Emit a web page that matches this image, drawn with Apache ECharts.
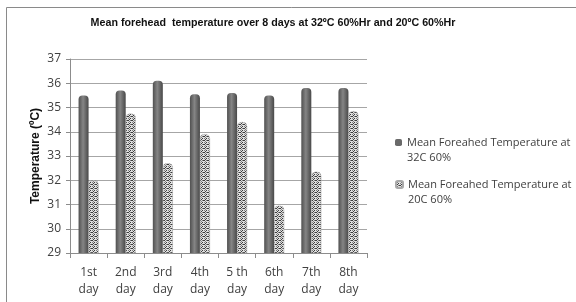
<!DOCTYPE html>
<html>
<head>
<meta charset="utf-8">
<script src="https://cdn.jsdelivr.net/npm/echarts@6/dist/echarts.min.js"></script>
<style>
  html, body { margin: 0; padding: 0; background: #fff; }
  #chart { width: 576px; height: 302px; }
</style>
</head>
<body>
<div id="chart"></div>
<script>
// data
var days = ['1st\nday', '2nd\nday', '3rd\nday', '4th\nday', '5 th\nday', '6th\nday', '7th\nday', '8th\nday'];
var temp32 = [35.5, 35.7, 36.1, 35.55, 35.6, 35.5, 35.8, 35.8];
var temp20 = [32.0, 34.75, 32.7, 33.9, 34.4, 30.95, 32.35, 34.85];
var name32 = 'Mean Foreahed Temperature at 32C 60%';
var name20 = 'Mean Foreahed Temperature at 20C 60%';

// speckled fill for the 20C series
function speckle() {
    var c = document.createElement('canvas');
    c.width = 4; c.height = 4;
    var ctx = c.getContext('2d');
    ctx.fillStyle = '#e0e0e0';
    ctx.fillRect(0, 0, 4, 4);
    ctx.fillStyle = '#3c3c3c';
    ctx.fillRect(0, 0, 1, 1);
    ctx.fillRect(2, 2, 1, 1);
    ctx.fillRect(3, 0, 1, 1);
    ctx.fillRect(1, 3, 1, 1);
    ctx.fillStyle = '#808080';
    ctx.fillRect(2, 0, 1, 1);
    ctx.fillRect(0, 2, 1, 1);
    ctx.fillRect(1, 1, 1, 1);
    return c;
}

var darkFill = new echarts.graphic.LinearGradient(0, 0, 1, 0, [
    {offset: 0, color: '#505050'},
    {offset: 0.45, color: '#858585'},
    {offset: 1, color: '#484848'}
]);
var dotFill = {image: speckle(), repeat: 'repeat'};

// legend text: blank first line so the marker sits next to the first text line
function legendText(n) {
    return '\n' + n.replace(' at ', ' at\n');
}

var chart = echarts.init(document.getElementById('chart'));
var option = {
    animation: false,
    backgroundColor: '#fff',
    title: {
        text: 'Mean forehead  temperature over 8 days at 32ºC 60%Hr and 20ºC 60%Hr',
        left: 268,
        textAlign: 'center',
        top: 13,
        textStyle: {fontFamily: 'Liberation Sans', fontSize: 10.7, fontWeight: 'bold', color: '#111'}
    },
    graphic: [{
        type: 'rect',
        shape: {x: 6.5, y: 7.5, width: 600, height: 320},
        style: {fill: 'none', stroke: '#8a8a8a', lineWidth: 1},
        silent: true
    }],
    legend: [{
        data: [{name: name32, itemStyle: {color: '#6a6a6a'}}],
        orient: 'vertical', left: 390, top: 115,
        itemWidth: 7, itemHeight: 7,
        formatter: legendText,
        textStyle: {fontFamily: 'Open Sans', fontSize: 11, color: '#404040', lineHeight: 15}
    }, {
        data: [{name: name20, itemStyle: {color: dotFill}}],
        orient: 'vertical', left: 390, top: 157,
        itemWidth: 7, itemHeight: 7,
        formatter: legendText,
        textStyle: {fontFamily: 'Open Sans', fontSize: 11, color: '#404040', lineHeight: 15}
    }],
    grid: {left: 70, right: 209, top: 59, bottom: 49},
    xAxis: {
        type: 'category',
        data: days,
        axisLine: {lineStyle: {color: '#8c8c8c'}},
        axisTick: {show: true, lineStyle: {color: '#8c8c8c'}, length: 5},
        axisLabel: {fontFamily: 'Open Sans', fontSize: 12, color: '#404040', lineHeight: 17, margin: 11}
    },
    yAxis: {
        type: 'value',
        min: 29, max: 37, interval: 1,
        name: 'Temperature (ºC)',
        nameLocation: 'middle',
        nameGap: 28,
        nameMoveOverlap: false,
        nameTextStyle: {fontFamily: 'Liberation Sans', fontSize: 12, fontWeight: 'bold', color: '#111'},
        axisLine: {show: true, lineStyle: {color: '#8c8c8c'}},
        axisTick: {show: true, lineStyle: {color: '#8c8c8c'}, length: 4},
        axisLabel: {fontFamily: 'Open Sans', fontSize: 12, color: '#404040', margin: 9},
        splitLine: {lineStyle: {color: '#a6a6a6'}}
    },
    series: [{
        name: name32,
        type: 'bar',
        data: temp32,
        barWidth: 10,
        barGap: '0%',
        itemStyle: {color: darkFill, borderRadius: [4, 4, 0, 0]}
    }, {
        name: name20,
        type: 'bar',
        data: temp20,
        barWidth: 10,
        itemStyle: {color: dotFill, borderColor: '#aaa', borderWidth: 0.5, borderRadius: [4, 4, 0, 0]}
    }]
};
chart.setOption(option);
window.onresize = chart.resize;
</script>
</body>
</html>
